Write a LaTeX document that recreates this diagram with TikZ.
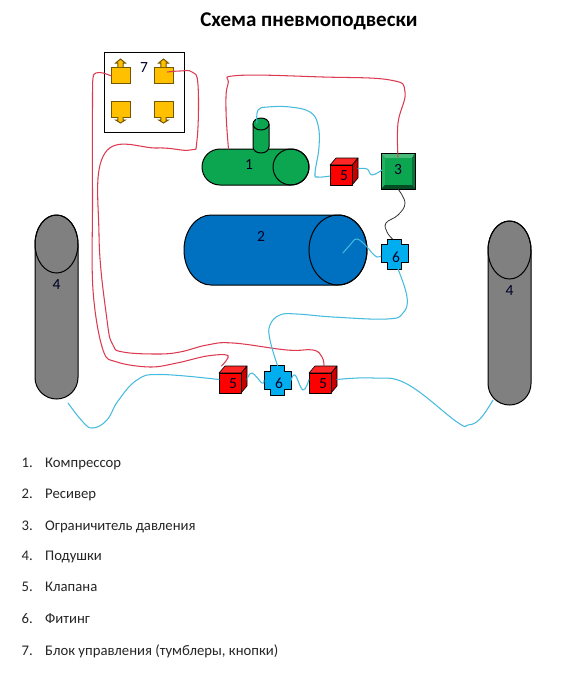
\documentclass[tikz,border=0pt]{standalone}
\usepackage{fontspec}
\setmainfont{Carlito}
\definecolor{gr}{HTML}{0CA650}
\definecolor{bl}{HTML}{0070C0}
\definecolor{cy}{HTML}{00AEEF}
\definecolor{org}{HTML}{FFC000}
\definecolor{wred}{HTML}{DC3A50}
\definecolor{wcy}{HTML}{45BBDD}
\tikzset{
  lbl/.style={inner sep=0pt,font=\fontsize{15.5}{15}\selectfont,text=black!85!blue},
  shp/.style={draw=black,line width=1pt,line join=round},
  wire/.style={line width=1.05pt,line cap=round,line join=round},
  redw/.style={wire,draw=wred},
  cyw/.style={wire,draw=wcy},
  listn/.style={inner sep=0pt,anchor=base west,font=\fontsize{14.7}{16}\selectfont,text=black!85},
}
% name, left x, top y, label
\newcommand\valvebox[4]{%
  \path[fill=red!78!black,shp,line width=0.6pt] (#2+22,#3) -- (#2+28,#3-7) -- (#2+28,#3+13) -- (#2+22,#3+20) -- cycle;
  \path[fill=red!85!white,shp,line width=0.6pt] (#2,#3) -- (#2+6,#3-7) -- (#2+28,#3-7) -- (#2+22,#3) -- cycle;
  \path[fill=red,shp,line width=0.6pt] (#2,#3) rectangle (#2+22,#3+20);
  \node[inner sep=0pt,outer sep=0pt,minimum width=28pt,minimum height=27pt] (#1) at (#2+14,#3+6.5) {};
  \node[lbl] at (#2+14,#3+11) {#4};
}
% name, centre x, centre y, label
\newcommand\fittingbox[4]{%
  \path[fill=cy,shp] (#2-7,#3-15) -- (#2+7,#3-15) -- (#2+7,#3-9.5) -- (#2+13.5,#3-9.5) -- (#2+13.5,#3+8.5)
     -- (#2+7,#3+8.5) -- (#2+7,#3+15) -- (#2-7,#3+15) -- (#2-7,#3+8.5) -- (#2-13.5,#3+8.5) -- (#2-13.5,#3-9.5) -- (#2-7,#3-9.5) -- cycle;
  \node[inner sep=0pt,outer sep=0pt,minimum width=27pt,minimum height=30pt] (#1) at (#2,#3) {};
  \node[lbl] at (#2+1.5,#3+3) {#4};
}
% name, centre x, top y, direction (-1 up, 1 down)
\newcommand\arrowbtn[4]{%
  \path[fill=org,draw=black!55!org,line width=1pt,line join=miter]
    (#2-9.5,#3) -- (#2+9.5,#3) -- (#2+9.5,#3+16) -- (#2-9.5,#3+16) -- cycle;
  \ifnum#4<0
  \path[fill=org,draw=black!55!org,line width=1pt] (#2-2.7,#3) -- (#2-2.7,#3-4) -- (#2-4.8,#3-4) -- (#2,#3-8) -- (#2+4.8,#3-4) -- (#2+2.7,#3-4) -- (#2+2.7,#3);
  \else
  \path[fill=org,draw=black!55!org,line width=1pt] (#2-2.7,#3+16) -- (#2-2.7,#3+19) -- (#2-4.8,#3+19) -- (#2,#3+22) -- (#2+4.8,#3+19) -- (#2+2.7,#3+19) -- (#2+2.7,#3+16);
  \fi
  \node[inner sep=0pt,outer sep=0pt,minimum width=19pt,minimum height=16pt] (#1) at (#2,#3+8) {};
}
% name, left, right, top, bottom, ellipse ry
\newcommand\bellowsbox[6]{%
  \path[fill=black!50,shp] (#2,#4+#6) arc[start angle=180,end angle=360,x radius=21.5,y radius=#6]
    -- (#3,#5-21.5) arc[start angle=0,end angle=180,x radius=21.5,y radius=21.5] -- cycle;
  \draw[shp] (#2+21.5,#4+#6) ellipse[x radius=21.5,y radius=#6];
  \node[inner sep=0pt,outer sep=0pt,minimum width=43pt,minimum height=#5pt-#4pt] (#1) at (#2+21.5,#4/2+#5/2) {};
  \node[lbl] at (#2+21.5,#4+#6+41) {4};
}
\begin{document}
\begin{tikzpicture}[x=1pt,y=-1pt]
\useasboundingbox (0,0) rectangle (569,675);
\fill[white] (0,0) rectangle (569,675);

\node[inner sep=0pt,font=\fontsize{21}{22}\selectfont\bfseries] (title) at (309,21) {Схема пневмоподвески};

% block 7
\node[draw=black,line width=1pt,fill=white,inner sep=0pt,minimum width=80pt,minimum height=80pt] (blk) at (144,92) {};
\node[lbl] (blkl) at (144,68) {7};
\arrowbtn{aul}{120.5}{67}{-1}
\arrowbtn{aur}{163.5}{67}{-1}
\arrowbtn{adl}{120.5}{101}{1}
\arrowbtn{adr}{163.5}{101}{1}

% compressor
\path[fill=gr,shp] (220,185) arc[start angle=90,end angle=270,x radius=18,y radius=18] -- (291,149)
   arc[start angle=270,end angle=450,x radius=18,y radius=18] -- cycle;
\draw[shp] (291,167) ellipse[x radius=18,y radius=18];
\node[inner sep=0pt,outer sep=0pt,minimum width=107pt,minimum height=36pt] (comp) at (255.5,167) {};
\node[lbl] at (249,165) {1};
\path[fill=gr,shp] (253,124) -- (253,147) arc[start angle=180,end angle=360,x radius=8,y radius=-6] -- (269,124) -- cycle;
\draw[fill=gr,shp] (261,124) ellipse[x radius=8,y radius=6];
\node[inner sep=0pt,outer sep=0pt,minimum width=16pt,minimum height=35pt] (stack) at (261,135.5) {};

% receiver
\path[fill=bl,shp] (211,285) arc[start angle=90,end angle=270,x radius=27,y radius=35] -- (338,215)
   arc[start angle=270,end angle=450,x radius=29,y radius=35] -- cycle;
\draw[shp] (338,250) ellipse[x radius=29,y radius=35];
\node[inner sep=0pt,outer sep=0pt,minimum width=183pt,minimum height=70pt] (recv) at (275.5,250) {};
\node[lbl] at (261,236) {2};

% limiter 3
\fill[black!40!gr] (381,153) rectangle (415,189);
\fill[gr!75!white] (381,153) -- (415,153) -- (412,158) -- (385,158) -- cycle;
\fill[gr!90!white] (381,153) -- (385,158) -- (385,185) -- (381,189) -- cycle;
\fill[black!30!gr] (415,153) -- (412,158) -- (412,185) -- (415,189) -- cycle;
\fill[black!55!gr] (381,189) -- (385,185) -- (412,185) -- (415,189) -- cycle;
\draw[black,line width=1pt] (381,153) rectangle (415,189);
\fill[gr] (385,158) rectangle (412,185);
\node[inner sep=0pt,outer sep=0pt,minimum width=34pt,minimum height=36pt] (lim) at (398,171) {};
\node[lbl] at (398,170) {3};

% bellows
\bellowsbox{bl}{35}{78}{215}{399}{29}
\bellowsbox{br}{488}{531}{221}{405}{29}

% valves
\valvebox{vt}{330}{165}{5}
\valvebox{vl}{219}{373}{5}
\valvebox{vr}{309}{373}{5}

% fittings
\fittingbox{ft}{394.5}{254}{6}
\fittingbox{fb}{277.5}{380.5}{6}

% wires
\draw[redw] plot[smooth,tension=0.6] coordinates {([xshift=-9pt,yshift=-1pt]aul.center) (103,73) (96,73) (93,78) (92.5,100) (92.5,200) (93,290) (103,350) (117,362) (150,367) (177,363) (207,356) (228,355.5) ([xshift=-11.5pt]vl.north)};
\draw[redw] plot[smooth,tension=0.7] coordinates {([xshift=4pt,yshift=3pt]aur.center) (180,71) (192,72) (198,85) (197,140) (190,150) (157,148) (105,153) (99,235) (107,320) (113,345) (123,352) (157,354) (180,352) (207,345) (233,343) (287,350) (313,350) (322,357) ([xshift=1pt]vr.north)};
\draw[redw] plot[smooth,tension=0.7] coordinates {([xshift=-27pt]comp.north) (226,110) (228,84) (238,75.5) (323,77) (390,80) (405,92) (398,123) ([yshift=-4pt]lim.north)};
\draw[cyw] plot[smooth,tension=0.7] coordinates {([xshift=-4pt,yshift=-5pt]stack.north) (258,110) (268,107) (290,107) (310,112) (318,125) (319,147) (315,173) (318,177) ([yshift=-4.5pt]vt.west)};
\draw[cyw] plot[smooth,tension=0.7] coordinates {([yshift=3pt]vt.east) (367,169) (372,175) (382,170)};
\draw[line width=0.8pt,black!80] plot[smooth,tension=0.7] coordinates {(lim.south) (405,203) (398,215) (386,223) (387,232) ([xshift=-2pt]ft.north)};
\draw[cyw] plot[smooth,tension=0.7] coordinates {([yshift=-2pt]ft.west) (377,257) (372,253) (367,247) (357,239) (350,245) (343,253)};
\draw[cyw] plot[smooth,tension=0.7] coordinates {([xshift=3.5pt]ft.south) (407,297) (403,313) (387,319) (333,317) (297,314) (280,315) (270,325) (270,340) (fb.north)};
\draw[cyw] plot[smooth,tension=0.7] coordinates {([xshift=11.5pt,yshift=-4pt]bl.south) (83,422) (93,428) (107,420) (118,401) (137,380) (160,374.5) (vl.west)};
\draw[cyw] plot[smooth,tension=0.7] coordinates {(vl.east) (252,373) (262,383) (fb.west)};
\draw[cyw] plot[smooth,tension=0.7] coordinates {(fb.east) (295,375) (303,390) (vr.west)};
\draw[cyw] plot[smooth,tension=0.7] coordinates {(vr.east) (373,378) (407,384) (457,422) (468,425) (480,419) (493,400)};

% legend
\foreach \n/\t/\y in {1/Компрессор/467,2/Ресивер/498,3/Ограничитель давления/530,4/Подушки/560.5,5/Клапана/591.5,6/Фитинг/623,7/{Блок управления (тумблеры, кнопки)}/655}{
  \node[listn] (n\n) at (21.5,\y) {\n.};
  \node[listn] (t\n) at (45,\y) {\t};
}
\end{tikzpicture}
\end{document}
